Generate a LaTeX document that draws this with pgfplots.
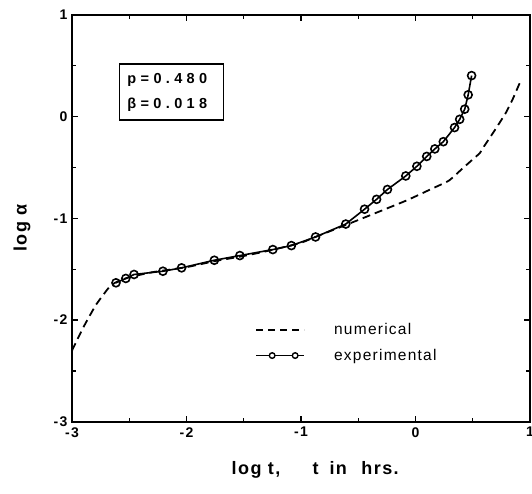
\documentclass[border=0pt]{standalone}
\usepackage{fontspec}
\setmainfont{Liberation Sans}
\newfontfamily\boxfont[LetterSpace=30]{Liberation Sans}
\newfontfamily\labfont[LetterSpace=8]{Liberation Sans}
\newfontfamily\legfont[LetterSpace=8]{Liberation Sans}
\newfontfamily\tickfont[LetterSpace=10]{Liberation Sans}
\usepackage{pgfplots}
\pgfplotsset{compat=1.18}
\begin{document}
\begin{tikzpicture}
\useasboundingbox (-72pt,-71.3pt) rectangle (460pt,421.7pt);
\begin{axis}[
  at={(0pt,0pt)}, anchor=south west,
  scale only axis, width=458pt, height=406.7pt,
  xmin=-3, xmax=1, ymin=-3, ymax=1,
  xtick={-3,-2,-1,0,1}, ytick={-3,-2,-1,0,1},
  minor tick num=1,
  tick align=inside,
  major tick length=6pt, minor tick length=4pt,
  every tick/.style={black, line width=1.3pt},
  axis line style={line width=2pt},
  tick label style={font=\fontsize{14}{16}\selectfont\tickfont\bfseries},
  /pgf/number format/assume math mode=true,
  yticklabel style={xshift=-1pt},
  xticklabel style={yshift=-2pt},
  xlabel={log\hspace{0.35em}t,\hspace{1.8em}t\hspace{0.6em}in\hspace{0.8em}hrs.},
  ylabel={log\hspace{0.35em}α},
  xlabel style={font=\fontsize{18}{20}\selectfont\labfont\bfseries, at={(axis description cs:0.531,-0.119)}, anchor=center},
  ylabel style={font=\fontsize{18}{20}\selectfont\labfont\bfseries, at={(axis description cs:-0.109,0.476)}, anchor=center},
  legend style={draw=none, fill=none, at={(axis description cs:0.40,0.247)}, anchor=north west,
    font=\fontsize{15.5}{18}\selectfont\legfont, row sep=9pt, inner sep=0pt},
  legend cell align=left,
]
\addplot[black, line width=1.8pt, dash pattern=on 8pt off 5pt, smooth, tension=0.3,
  legend image code/.code={
    \draw[black, line width=1.5pt, dash pattern=on 7pt off 5pt] (0pt,0pt) -- (48pt,0pt);
    \path[draw=none] (0pt,0pt) -- (76pt,0pt);
  }] coordinates {
(-3.0,-2.30) (-2.90,-2.07) (-2.79,-1.85) (-2.67,-1.67) (-2.60,-1.62) (-2.50,-1.58)
(-2.3,-1.53) (-2.0,-1.48) (-1.75,-1.42) (-1.5,-1.37) (-1.25,-1.31) (-1.0,-1.24)
(-0.89,-1.19) (-0.71,-1.11) (-0.53,-1.03) (-0.31,-0.93) (-0.07,-0.82) (0.14,-0.71)
(0.29,-0.63) (0.41,-0.51) (0.50,-0.42) (0.56,-0.36) (0.60,-0.29) (0.70,-0.12)
(0.79,0.04) (0.85,0.175) (0.91,0.33) (0.93,0.37)
};
\addlegendentry{numerical}
\addplot[black, line width=1.6pt, mark=o, mark size=4pt, mark options={solid, fill=white, line width=1.6pt},
  legend image code/.code={
    \draw[black, line width=1.5pt] (0pt,0pt) -- (48pt,0pt);
    \draw[black, line width=1.4pt, fill=white] (16pt,0pt) circle (2.8pt) (39pt,0pt) circle (2.8pt);
    \path[draw=none] (0pt,0pt) -- (76pt,0pt);
  }] coordinates {
(-2.616,-1.634) (-2.530,-1.591) (-2.458,-1.552) (-2.206,-1.520) (-2.043,-1.487)
(-1.757,-1.412) (-1.534,-1.366) (-1.246,-1.307) (-1.084,-1.268) (-0.873,-1.183)
(-0.609,-1.056) (-0.445,-0.910) (-0.340,-0.813) (-0.245,-0.716) (-0.085,-0.583)
(0.012,-0.488) (0.098,-0.391) (0.169,-0.317) (0.243,-0.246) (0.341,-0.107)
(0.386,-0.026) (0.430,0.074) (0.460,0.215) (0.490,0.404)
};
\addlegendentry{experimental}
\node[draw, line width=1.5pt, text width=88pt, inner xsep=8pt, inner ysep=6pt,
  minimum height=56pt, align=left, font=\fontsize{14.5}{25}\selectfont\boxfont\bfseries]
  at (axis cs:-2.131,0.243) {p=0.480\\β=0.018};
\end{axis}
\end{tikzpicture}
\end{document}
